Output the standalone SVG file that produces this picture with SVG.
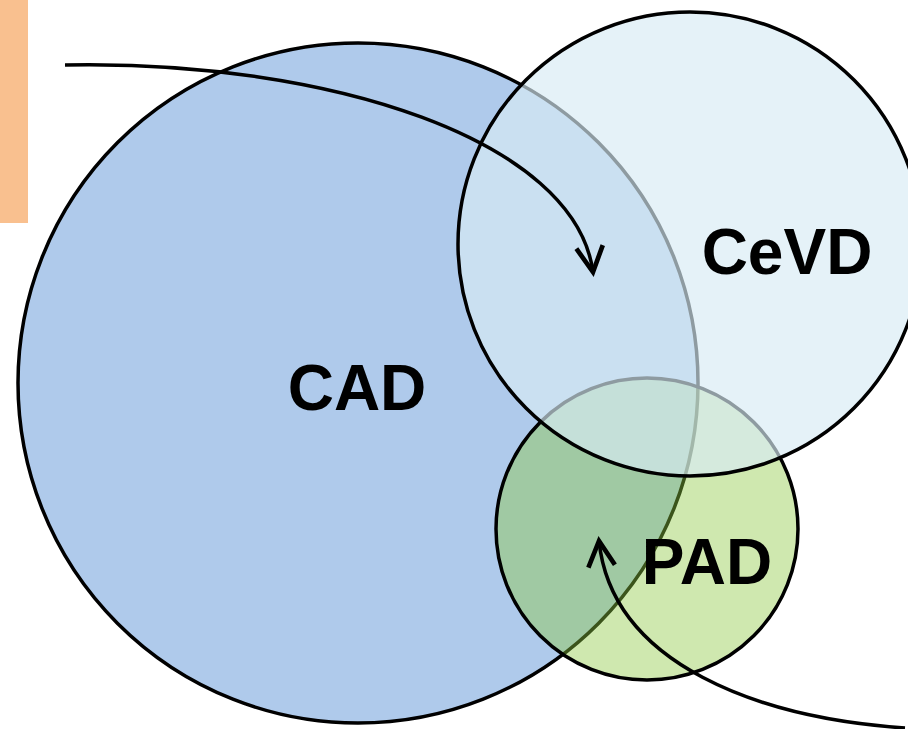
<svg xmlns="http://www.w3.org/2000/svg" width="908" height="729" viewBox="0 0 908 729">
  <style>
    .circ { stroke: #000; stroke-width: 3.5; }
    .lbl { font-family: "Liberation Sans", Arial, sans-serif; font-weight: bold; font-size: 64px; fill: #000; text-anchor: middle; }
    .conn { fill: none; stroke: #000; stroke-width: 3.5; }
  </style>
  <defs>
    <marker id="chev" markerUnits="userSpaceOnUse" markerWidth="40" markerHeight="40" refX="0" refY="0" viewBox="-25 -15 30 30" orient="auto" overflow="visible">
      <path d="M -19 -10 L 0 0 L -19 10" fill="none" stroke="#000" stroke-width="3.5" stroke-linejoin="miter"/>
    </marker>
  </defs>
  <rect width="908" height="729" fill="#fff"/>
  <rect id="tab" x="0" y="0" width="28" height="223" fill="#F9C08F"/>
  <g id="CAD">
    <circle class="circ" cx="358" cy="383" r="340" fill="#AFCAEB"/>
  </g>
  <g id="PAD">
    <circle class="circ" cx="647" cy="529" r="151" fill="rgb(140,200,64)" fill-opacity="0.42"/>
  </g>
  <g id="CeVD">
    <circle class="circ" cx="690" cy="244" r="232" fill="rgb(216,235,244)" fill-opacity="0.66"/>
  </g>
  <g id="labels">
    <text class="lbl" x="357" y="410">CAD</text>
    <text class="lbl" x="787" y="274">CeVD</text>
    <text class="lbl" x="707" y="584">PAD</text>
  </g>
  <g id="connectors">
    <path class="conn" d="M 65 65 C 330 60, 575 140, 593 272" marker-end="url(#chev)"/>
    <path class="conn" d="M 905 728 C 760 718, 612 665, 599 541" marker-end="url(#chev)"/>
  </g>
</svg>
